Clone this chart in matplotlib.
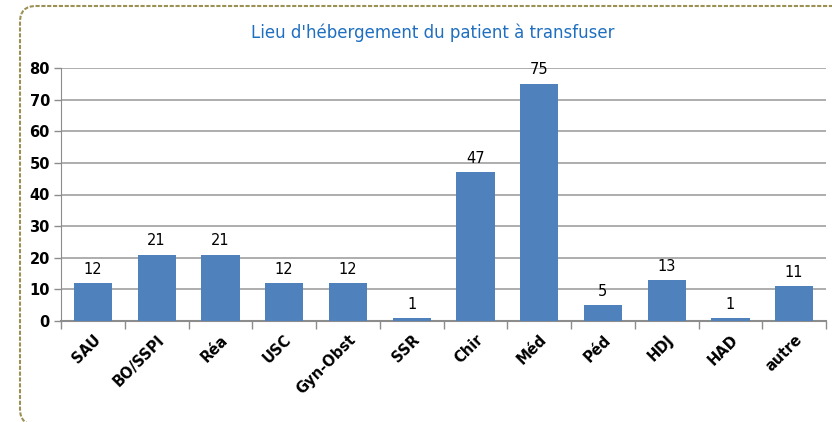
import matplotlib
matplotlib.use('Agg')
import matplotlib.pyplot as plt
from matplotlib.patches import FancyBboxPatch
from matplotlib.ticker import FixedLocator

# Chart data
categories = ['SAU', 'BO/SSPI', 'Réa', 'USC', 'Gyn-Obst', 'SSR',
              'Chir', 'Méd', 'Péd', 'HDJ', 'HAD', 'autre']
counts = [12, 21, 21, 12, 12, 1, 47, 75, 5, 13, 1, 11]
y_ticks = [0, 10, 20, 30, 40, 50, 60, 70, 80]
title = "Lieu d'hébergement du patient à transfuser"

W, H = 832, 422
fig = plt.figure(figsize=(W / 100, H / 100), dpi=100)

# dashed rounded frame (only top-left part visible), sizes in inches
frame = FancyBboxPatch((0.20, -0.03), 9.0, (H - 3) / 100,
                       boxstyle='round,pad=0,rounding_size=0.16',
                       transform=fig.dpi_scale_trans, fill=False,
                       edgecolor='#9c9155', linewidth=1.5,
                       linestyle=(0, (2, 0.8)), clip_on=False)
fig.patches.append(frame)

ax = fig.add_axes([61 / W, (H - 321) / H, (826 - 61) / W, (321 - 68) / H])

x = list(range(len(categories)))
ax.bar(x, counts, width=0.6, color='#4f81bd', zorder=3)
for xi, v in zip(x, counts):
    ax.text(xi, v + 2.0, str(v), ha='center', va='bottom',
            fontsize=10.5, color='black')

ax.set_xlim(-0.5, len(categories) - 0.5)
ax.set_ylim(0, 80)
ax.set_yticks(y_ticks)
ax.set_yticklabels([str(t) for t in y_ticks], fontsize=10.5, fontweight='bold')
ax.yaxis.grid(True, color='#a0a0a0', linewidth=1.2, zorder=0)
ax.tick_params(axis='y', length=5, width=1, color='#8c8c8c', pad=3)

ax.set_xticks(x)
ax.set_xticklabels(categories, rotation=45, ha='right', rotation_mode='anchor',
                   fontsize=10.5, fontweight='bold')
ax.tick_params(axis='x', length=0, pad=8)
ax.xaxis.set_minor_locator(FixedLocator([i - 0.5 for i in range(len(categories) + 1)]))
ax.tick_params(axis='x', which='minor', length=6, width=1, color='#8c8c8c')

for side in ['top', 'right']:
    ax.spines[side].set_visible(False)
ax.spines['left'].set_color('#8c8c8c')
ax.spines['bottom'].set_color('#8c8c8c')
ax.spines['bottom'].set_linewidth(1.5)

fig.text(433 / W, 1 - 33 / H, title, ha='center', va='center',
         fontsize=12, color='#1f6fc0')

fig.savefig('out.png', dpi=100)
